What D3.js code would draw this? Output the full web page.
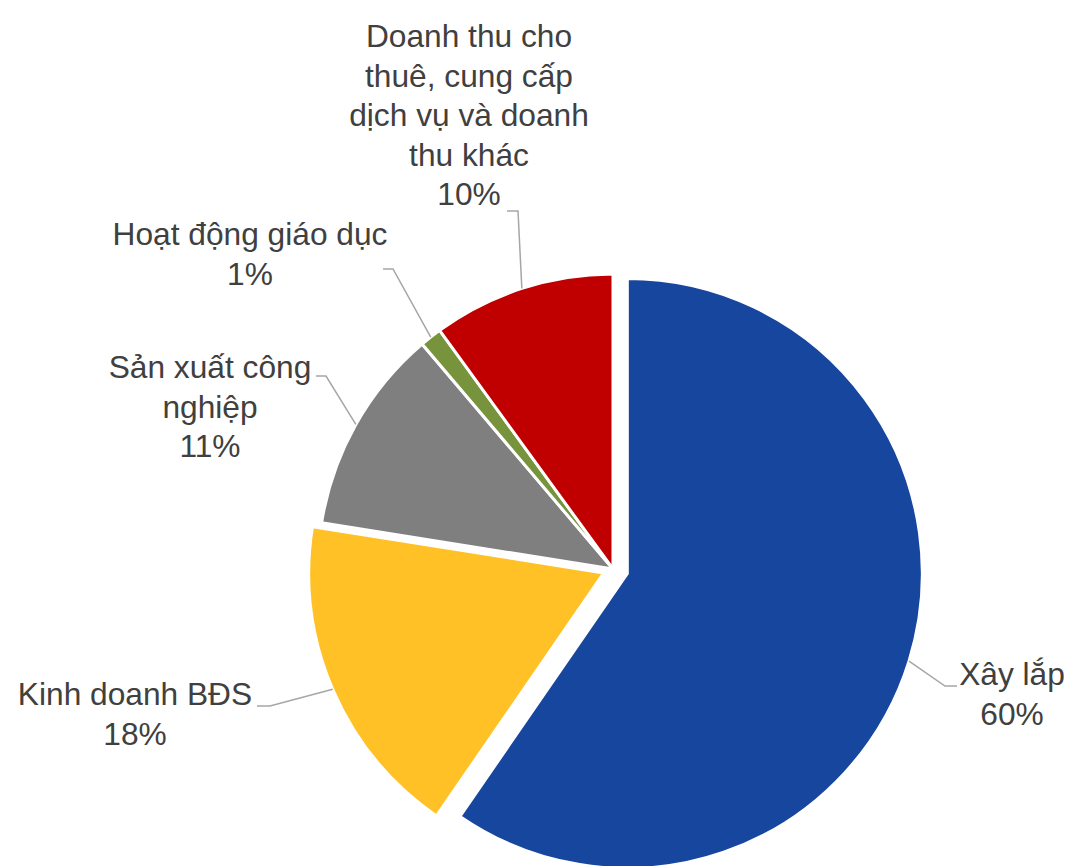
<!DOCTYPE html>
<html>
<head>
<meta charset="utf-8">
<script src="https://cdn.jsdelivr.net/npm/d3@7"></script>
<style>
  body { margin: 0; background: #fff; }
  text { font-family: "Liberation Sans", Arial, sans-serif; font-size: 31.7px; fill: #404040; }
  .leader { fill: none; stroke: #a6a6a6; stroke-width: 1.5; }
</style>
</head>
<body>
<svg id="svg" width="1072" height="866"></svg>
<script>
// Data, clockwise from 12 o'clock
const categories = ["Xây lắp", "Kinh doanh BĐS", "Sản xuất công nghiệp", "Hoạt động giáo dục",
  "Doanh thu cho thuê, cung cấp dịch vụ và doanh thu khác"];
const shares = [59.6, 17.9, 11.3, 1.2, 10.0];
const pctLabels = ["60%", "18%", "11%", "1%", "10%"];
const labelLines = [
  ["Xây lắp"],
  ["Kinh doanh BĐS"],
  ["Sản xuất công", "nghiệp"],
  ["Hoạt động giáo dục"],
  ["Doanh thu cho", "thuê, cung cấp", "dịch vụ và doanh", "thu khác"]
];

const colors = ["#17469e", "#ffc125", "#7f7f7f", "#77933c", "#c00000"];

const attr = {
  width: 1072,
  height: 866,
  cx: 613,
  cy: 569,
  radius: 295,
  lineHeight: 39.5
};

// explosion distance per slice
const explode = [15, 10, 0, 0, 0];

// label layout: text centre x, first baseline y, leader elbow and text-side end
const labelPos = [
  { x: 1012, y: 685, elbow: [945, 686], end: [957, 686] },
  { x: 135, y: 705, elbow: [270, 706], end: [257, 706] },
  { x: 210, y: 378, elbow: [326, 376], end: [316, 376] },
  { x: 250, y: 245, elbow: [393, 269], end: [383, 269] },
  { x: 469, y: 47, elbow: [518, 211], end: [507, 211] }
];

const svg = d3.select("svg#svg");
const g = svg.append("g").attr("transform", `translate(${attr.cx},${attr.cy})`);

const pie = d3.pie().sort(null).value(d => d);
const arcs = pie(shares);
const arc = d3.arc().innerRadius(0).outerRadius(attr.radius);

const offset = function(d, i) {
  const a = (d.startAngle + d.endAngle) / 2;
  return [Math.sin(a) * explode[i], -Math.cos(a) * explode[i]];
};

g.selectAll("path.slice")
  .data(arcs)
  .enter()
  .append("path")
  .attr("class", "slice")
  .attr("d", arc)
  .attr("transform", (d, i) => {
    const o = offset(d, i);
    return `translate(${o[0]},${o[1]})`;
  })
  .style("fill", (d, i) => colors[i])
  .style("stroke", "#fff")
  .style("stroke-width", 3)
  .style("stroke-linejoin", "miter");

// leader lines: from the slice edge at its mid angle to the label
const lines = svg.append("g");
arcs.forEach(function(d, i) {
  const a = (d.startAngle + d.endAngle) / 2;
  const o = offset(d, i);
  const px = attr.cx + o[0] + Math.sin(a) * attr.radius;
  const py = attr.cy + o[1] - Math.cos(a) * attr.radius;
  const p = labelPos[i];
  lines.append("path")
    .attr("class", "leader")
    .attr("d", d3.line()([[px, py], p.elbow, p.end]));
});

// labels
const labels = svg.append("g");
labelLines.forEach(function(lns, i) {
  const p = labelPos[i];
  const t = labels.append("text").attr("text-anchor", "middle");
  lns.concat([pctLabels[i]]).forEach(function(s, k) {
    t.append("tspan")
      .attr("x", p.x)
      .attr("y", p.y + k * attr.lineHeight)
      .text(s);
  });
});
</script>
</body>
</html>
